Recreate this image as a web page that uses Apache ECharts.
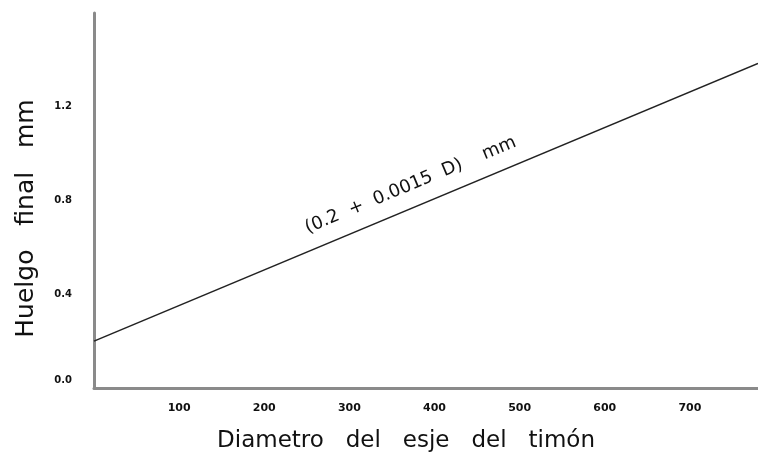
<!DOCTYPE html>
<html>
<head>
<meta charset="utf-8">
<script src="https://cdn.jsdelivr.net/npm/echarts@6/dist/echarts.min.js"></script>
<style>
  html, body { margin: 0; padding: 0; background: #fff; }
  #chart { width: 758px; height: 459px; }
</style>
</head>
<body>
<div id="chart"></div>
<script>
// values
const xTicks = [100, 200, 300, 400, 500, 600, 700]
const yTicks = [0, 0.4, 0.8, 1.2]
const lineD = [0, 780]
const lineHuelgo = [0.2, 1.385]
const formulaText = '(0.2  +  0.0015  D)    mm'
const formulaAt = [372, 0.865]

const font = 'DejaVu Sans'
const axisGray = '#8a8a8a'

const option = {
  animation: false,
  grid: { left: 94, right: 0, top: 13, bottom: 71 },
  xAxis: {
    type: 'value',
    min: 0,
    max: 780,
    name: 'Diametro   del   esje   del   timón',
    nameLocation: 'middle',
    nameGap: 42,
    nameTextStyle: { fontFamily: font, fontSize: 23, color: '#111', padding: [0, 40, 0, 0] },
    axisLine: { show: true, lineStyle: { color: axisGray, width: 3 } },
    axisTick: { show: false },
    splitLine: { show: false },
    axisLabel: {
      customValues: xTicks,
      margin: 15,
      fontFamily: font,
      fontWeight: 'bold',
      fontSize: 11,
      color: '#111'
    }
  },
  yAxis: {
    type: 'value',
    min: 0,
    max: 1.6,
    name: 'Huelgo   final   mm',
    nameLocation: 'middle',
    nameGap: 55,
    nameRotate: 90,
    nameTextStyle: { fontFamily: font, fontSize: 25, color: '#111', padding: [0, 36, 0, 0] },
    axisLine: { show: true, lineStyle: { color: axisGray, width: 3 } },
    axisTick: { show: false },
    splitLine: { show: false },
    axisLabel: {
      customValues: yTicks,
      margin: 22,
      fontFamily: font,
      fontWeight: 'bold',
      fontSize: 10,
      color: '#111',
      formatter: (v) => v === 0 ? '{z|0.0}' : v.toFixed(1),
      rich: { z: { fontFamily: font, fontWeight: 'bold', fontSize: 10, color: '#111', padding: [0, 0, 15, 0] } }
    }
  },
  series: [
    {
      type: 'line',
      data: lineD.map((d, i) => [d, lineHuelgo[i]]),
      symbol: 'none',
      lineStyle: { color: '#222', width: 1.6 },
      markPoint: {
        symbol: 'circle',
        symbolSize: 0,
        data: [{ coord: formulaAt }],
        label: {
          show: true,
          formatter: formulaText,
          rotate: 22.6,
          fontFamily: font,
          fontSize: 18,
          color: '#111'
        }
      }
    }
  ]
}

const chart = echarts.init(document.getElementById('chart'))
chart.setOption(option)
</script>
</body>
</html>
